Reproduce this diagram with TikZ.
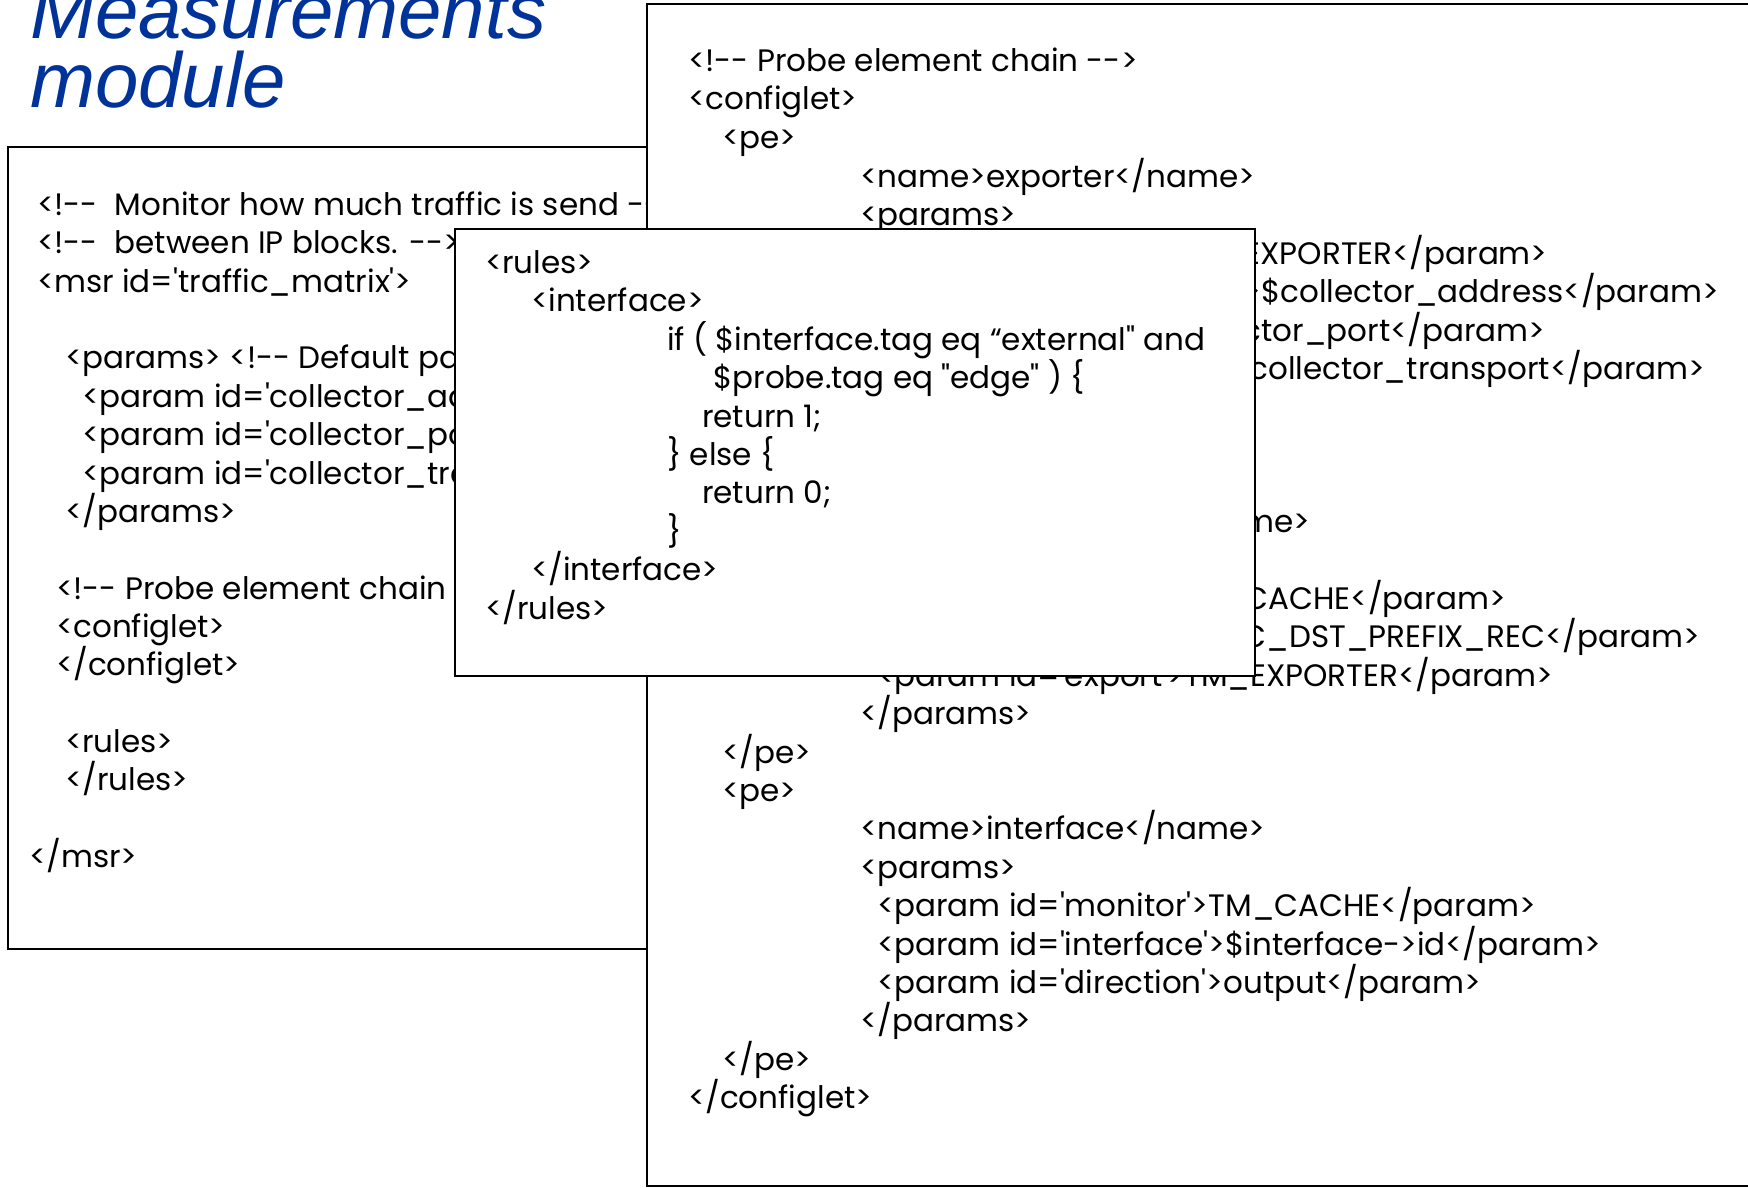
\documentclass[tikz,border=0pt]{standalone}
\usepackage{fontspec}
\setmainfont{Poppins}[Ligatures={TeXOff,CommonOff}]
\newfontfamily\titlefont{Liberation Sans}
\definecolor{titleblue}{RGB}{0,51,153}
\tikzstyle{codebox}=[draw=black, fill=white, line width=2.5pt]
\tikzstyle{code}=[anchor=base west, inner sep=0pt, font=\fontsize{31}{37}\selectfont]
\tikzstyle{titlesty}=[anchor=base west, inner sep=0pt, text=titleblue, font=\titlefont\itshape\fontsize{78}{70}\selectfont]

\begin{document}
\begin{tikzpicture}[x=1pt,y=-1pt]
	\useasboundingbox (0,0) rectangle (1748,1188);

	\node[titlesty] (tt1) at (30,39) {Measurements};
	\node[titlesty] (tt2) at (30,108) {module};

	% msr file
	\draw[codebox] (8,147) rectangle (660,949);
	\node[code] (m1) at (37,215) {<!--\hspace{17pt}Monitor how much traffic is send -->};
	\node[code] (m2) at (37,253) {<!--\hspace{17pt}between IP blocks. -->};
	\node[code] (m3) at (37,292) {<msr id='traffic\_matrix'>};
	\node[code] (m4) at (65,368) {<params> <!-- Default parameters -->};
	\node[code] (m5) at (82,407) {<param id='collector\_address'>};
	\node[code] (m6) at (82,445) {<param id='collector\_port'>};
	\node[code] (m7) at (82,484) {<param id='collector\_transport'>};
	\node[code] (m8) at (65,522) {</params>};
	\node[code] (m9) at (56,599) {<!-- Probe element chain -->};
	\node[code] (m10) at (56,637) {<configlet>};
	\node[code] (m11) at (56,675) {</configlet>};
	\node[code] (m12) at (65,752) {<rules>};
	\node[code] (m13) at (65,790) {</rules>};
	\node[code] (m14) at (29,867) {</msr>};

	% configlet
	\draw[codebox] (647,4) rectangle (1770,1186);
	\node[code] (c0) at (688,72) {<!-- Probe element chain -->};
	\node[code] (c1) at (688,110) {<configlet>};
	\node[code] (c2) at (722,149) {<pe>};
	\node[code] (c3) at (860,187) {<name>exporter</name>};
	\node[code] (c4) at (860,225) {<params>};
	\node[code] (c5) at (877,264) {<param id='name'>TM\_EXPORTER</param>};
	\node[code] (c6) at (877,302) {<param id='destination'>\$collector\_address</param>};
	\node[code] (c7) at (877,341) {<param id='port'>\$collector\_port</param>};
	\node[code] (c8) at (877,379) {<param id='transport'>\$collector\_transport</param>};
	\node[code] (c12) at (860,532) {<name>flow\_cache</name>};
	\node[code] (c14) at (877,609) {<param id='name'>TM\_CACHE</param>};
	\node[code] (c15) at (877,647) {<param id='key'>TM\_SRC\_DST\_PREFIX\_REC</param>};
	\node[code] (c16) at (877,686) {<param id='export'>TM\_EXPORTER</param>};
	\node[code] (c17) at (860,724) {</params>};
	\node[code] (c18) at (722,763) {</pe>};
	\node[code] (c19) at (722,801) {<pe>};
	\node[code] (c20) at (860,839) {<name>interface</name>};
	\node[code] (c21) at (860,878) {<params>};
	\node[code] (c22) at (877,916) {<param id='monitor'>TM\_CACHE</param>};
	\node[code] (c23) at (877,955) {<param id='interface'>\$interface->id</param>};
	\node[code] (c24) at (877,993) {<param id='direction'>output</param>};
	\node[code] (c25) at (860,1031) {</params>};
	\node[code] (c26) at (722,1070) {</pe>};
	\node[code] (c27) at (688,1108) {</configlet>};

	% rules
	\draw[codebox] (455,229) rectangle (1255,676);
	\node[code] (r0) at (485,273) {<rules>};
	\node[code] (r1) at (531,311) {<interface>};
	\node[code] (r2) at (667,350) {if ( \$interface.tag eq “external" and};
	\node[code] (r3) at (713,388) {\$probe.tag eq "edge" ) \{};
	\node[code] (r4) at (702,427) {return 1;};
	\node[code] (r5) at (667,465) {\} else \{};
	\node[code] (r6) at (702,503) {return 0;};
	\node[code] (r7) at (667,542) {\}};
	\node[code] (r8) at (531,580) {</interface>};
	\node[code] (r9) at (485,619) {</rules>};

\end{tikzpicture}
\end{document}
